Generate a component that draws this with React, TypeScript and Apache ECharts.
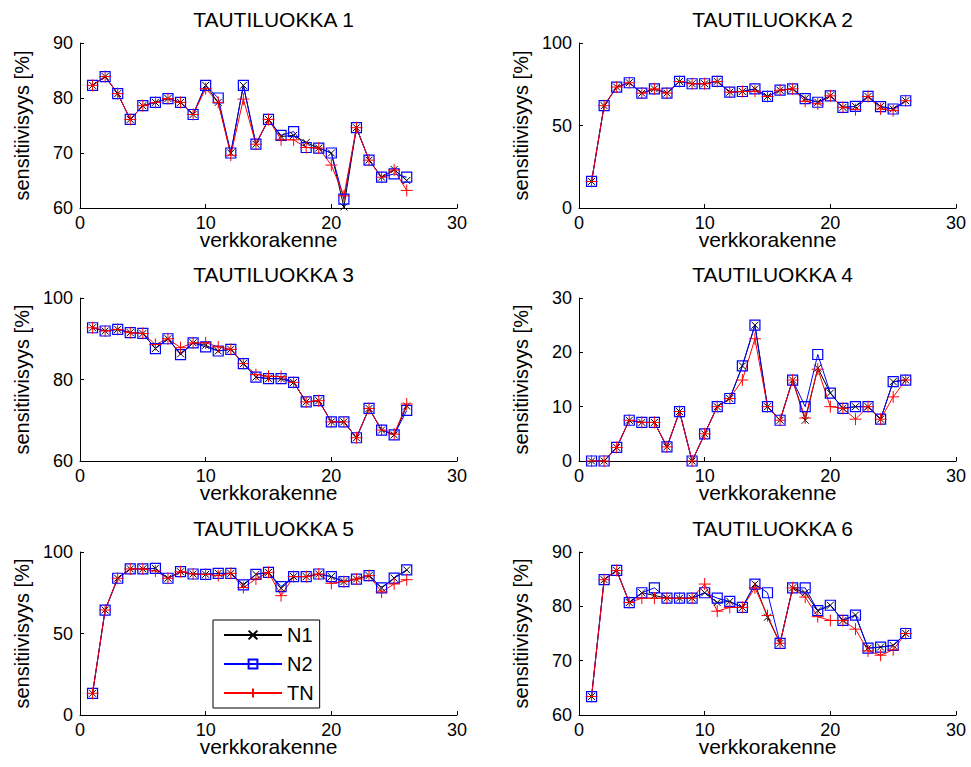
import React, { useEffect, useRef } from "react";
import * as echarts from "echarts";

const xs = [1, 2, 3, 4, 5, 6, 7, 8, 9, 10, 11, 12, 13, 14, 15, 16, 17, 18, 19, 20, 21, 22, 23, 24, 25, 26];
const seriesNames = ["N1", "N2", "TN"];
const titles = ["TAUTILUOKKA 1", "TAUTILUOKKA 2", "TAUTILUOKKA 3", "TAUTILUOKKA 4", "TAUTILUOKKA 5", "TAUTILUOKKA 6"];
const xTicks = { min: 0, max: 30, interval: 10 };
const yRanges = [
  { min: 60, max: 90, interval: 10 },
  { min: 0, max: 100, interval: 50 },
  { min: 60, max: 100, interval: 20 },
  { min: 0, max: 30, interval: 10 },
  { min: 0, max: 100, interval: 50 },
  { min: 60, max: 90, interval: 10 },
];

// Tautiluokka 1
const n1_1 = [82.3, 83.9, 80.8, 76.1, 78.6, 79.2, 79.9, 79.2, 77.0, 82.3, 79.2, 70.0, 82.3, 71.6, 76.1, 73.0, 73.2, 71.9, 70.9, 70.0, 60.2, 74.6, 68.7, 65.6, 67.0, 65.0];
const n2_1 = [82.3, 83.9, 80.8, 76.1, 78.6, 79.2, 79.9, 79.2, 77.0, 82.3, 80.0, 70.0, 82.3, 71.6, 76.1, 73.2, 73.9, 71.0, 70.9, 70.0, 61.6, 74.6, 68.7, 65.6, 66.2, 65.6];
const tn_1 = [82.3, 83.9, 80.8, 76.1, 78.6, 79.2, 79.9, 79.2, 77.0, 81.7, 79.2, 69.6, 79.8, 71.6, 76.1, 72.4, 72.4, 71.0, 70.9, 67.8, 62.2, 74.6, 68.7, 65.6, 66.9, 63.2];
// Tautiluokka 2
const n1_2 = [16.1, 62.0, 73.3, 75.9, 69.6, 72.2, 69.6, 76.7, 75.3, 75.3, 76.7, 70.2, 70.6, 72.2, 67.6, 71.4, 72.2, 66.3, 64.1, 68.0, 61.0, 61.6, 67.6, 61.5, 60.0, 65.0];
const n2_2 = [16.1, 62.0, 73.3, 75.9, 69.6, 72.2, 69.6, 76.7, 75.3, 75.3, 76.7, 70.2, 70.6, 72.2, 67.6, 71.4, 72.2, 66.3, 64.1, 68.0, 61.0, 61.6, 67.6, 61.5, 60.0, 65.0];
const tn_2 = [16.1, 62.0, 73.3, 75.9, 69.6, 72.2, 69.6, 76.7, 75.3, 75.3, 76.7, 70.2, 70.6, 70.8, 67.6, 71.4, 72.2, 64.7, 63.1, 68.0, 61.0, 59.6, 67.6, 60.0, 59.0, 65.0];
// Tautiluokka 3
const n1_3 = [92.7, 91.9, 92.3, 91.5, 91.3, 87.6, 90.0, 86.3, 89.0, 88.4, 87.0, 87.4, 83.9, 80.6, 80.2, 80.2, 79.3, 74.5, 74.8, 69.6, 69.6, 65.7, 72.9, 67.6, 66.4, 73.5];
const n2_3 = [92.7, 91.9, 92.3, 91.5, 91.3, 87.6, 90.0, 86.1, 89.0, 88.0, 87.0, 87.4, 83.9, 80.6, 80.2, 80.2, 79.3, 74.5, 74.8, 69.6, 69.6, 65.7, 72.9, 67.6, 66.4, 72.4];
const tn_3 = [92.7, 91.9, 92.3, 91.5, 91.3, 88.6, 90.0, 87.8, 89.0, 89.0, 88.0, 87.4, 83.9, 81.2, 80.8, 80.7, 79.3, 74.5, 74.8, 69.6, 69.6, 65.7, 72.9, 67.6, 66.6, 74.0];
// Tautiluokka 4
const n1_4 = [0, 0, 2.5, 7.5, 7.1, 7.1, 2.6, 9.1, 0, 5.0, 10.0, 11.5, 17.5, 25.0, 10.0, 7.5, 14.9, 7.5, 17.1, 12.5, 9.7, 10.0, 10.0, 7.7, 14.6, 14.9];
const n2_4 = [0, 0, 2.5, 7.5, 7.1, 7.1, 2.6, 9.1, 0, 5.0, 10.0, 11.5, 17.5, 25.0, 10.0, 7.5, 14.9, 10.0, 19.6, 12.5, 9.7, 10.0, 10.0, 7.7, 14.6, 14.9];
const tn_4 = [0, 0, 2.5, 7.5, 7.1, 7.1, 2.6, 9.1, 0, 5.0, 10.0, 11.5, 14.9, 22.5, 10.0, 7.5, 14.9, 7.9, 16.9, 10.0, 9.7, 7.7, 10.0, 7.7, 11.8, 14.9];
// Tautiluokka 5
const n1_5 = [13.3, 64.4, 83.9, 89.6, 89.6, 90.0, 83.9, 87.9, 86.5, 86.3, 86.9, 86.9, 79.8, 86.3, 87.5, 77.7, 84.9, 84.9, 86.5, 84.9, 81.8, 83.4, 85.5, 78.0, 84.0, 89.0];
const n2_5 = [13.3, 64.4, 83.9, 89.6, 89.6, 90.0, 83.9, 87.9, 86.5, 86.3, 86.9, 86.9, 79.8, 86.3, 87.5, 78.8, 84.9, 84.9, 86.5, 84.9, 81.8, 83.4, 85.5, 78.0, 84.0, 89.0];
const tn_5 = [13.3, 64.4, 83.9, 89.6, 89.6, 88.4, 83.9, 87.9, 86.5, 86.3, 85.5, 86.9, 78.2, 83.5, 87.5, 73.2, 84.9, 84.9, 86.5, 80.8, 81.8, 83.4, 85.5, 75.5, 80.4, 83.0];
// Tautiluokka 6
const n1_6 = [63.4, 84.9, 86.6, 80.7, 82.5, 82.0, 81.5, 81.5, 81.5, 82.5, 80.7, 80.9, 79.8, 84.1, 78.0, 73.2, 83.4, 82.5, 79.2, 80.2, 77.4, 78.4, 72.3, 72.5, 72.8, 75.0];
const n2_6 = [63.4, 84.9, 86.6, 80.7, 82.5, 83.4, 81.5, 81.5, 81.5, 82.5, 81.5, 80.9, 79.8, 84.1, 82.5, 73.2, 83.4, 83.4, 79.2, 80.2, 77.4, 78.4, 72.3, 72.5, 72.8, 75.0];
const tn_6 = [63.4, 84.9, 86.6, 80.7, 81.5, 81.5, 81.5, 81.5, 81.5, 84.1, 79.1, 79.8, 79.8, 83.4, 78.3, 73.2, 83.4, 81.7, 78.1, 77.4, 77.4, 75.8, 71.8, 71.0, 72.0, 75.0];

const panels = [
  [n1_1, n2_1, tn_1],
  [n1_2, n2_2, tn_2],
  [n1_3, n2_3, tn_3],
  [n1_4, n2_4, tn_4],
  [n1_5, n2_5, tn_5],
  [n1_6, n2_6, tn_6],
];

const FONT = "'Liberation Sans', Arial, sans-serif";
const colLefts = [80, 579];
const plotW = 377;
const rowTops = [43, 298, 552];
const rowHeights = [165, 163, 163];

const X_PATH = "path://M0,0L8,8M8,0L0,8";
const PLUS_PATH = "path://M5,0L5,10M0,5L10,5";

export default function App() {
  const ref = useRef<HTMLDivElement>(null);
  useEffect(() => {
    if (!ref.current) return;
    const chart = echarts.init(ref.current, null, { renderer: "svg" });
    const grids: any[] = [];
    const xAxes: any[] = [];
    const yAxes: any[] = [];
    const titleArr: any[] = [];
    const series: any[] = [];
    for (let i = 0; i < 6; i++) {
      const r = Math.floor(i / 2);
      const c = i % 2;
      grids.push({ left: colLefts[c], top: rowTops[r], width: plotW, height: rowHeights[r] });
      titleArr.push({
        text: titles[i],
        left: colLefts[c] + plotW / 2,
        top: rowTops[r] - 39,
        textAlign: "center",
        textStyle: { fontFamily: FONT, fontSize: 21, fontWeight: "normal", color: "#000" },
      });
      xAxes.push({
        gridIndex: i,
        type: "value",
        min: xTicks.min,
        max: xTicks.max,
        interval: xTicks.interval,
        name: "verkkorakenne",
        nameLocation: "middle",
        nameGap: 23,
        nameMoveOverlap: false,
        nameTextStyle: { fontFamily: FONT, fontSize: 21, color: "#000", lineHeight: 16 },
        axisLine: { show: true, onZero: false, lineStyle: { color: "#000", width: 1 } },
        axisTick: { show: true, inside: true, length: 4, lineStyle: { color: "#000" } },
        axisLabel: { fontFamily: FONT, fontSize: 18, color: "#000", margin: 8, lineHeight: 14 },
        splitLine: { show: false },
      });
      yAxes.push({
        gridIndex: i,
        type: "value",
        min: yRanges[i].min,
        max: yRanges[i].max,
        interval: yRanges[i].interval,
        name: "sensitiivisyys [%]",
        nameLocation: "middle",
        nameGap: 48,
        nameMoveOverlap: false,
        nameTextStyle: { fontFamily: FONT, fontSize: 20, color: "#000" },
        axisLine: { show: true, onZero: false, lineStyle: { color: "#000", width: 1 } },
        axisTick: { show: true, inside: true, length: 4, lineStyle: { color: "#000" } },
        axisLabel: { fontFamily: FONT, fontSize: 18, color: "#000", margin: 7 },
        splitLine: { show: false },
      });
      const [a, b, t] = panels[i];
      const base = { type: "line", xAxisIndex: i, yAxisIndex: i, showAllSymbol: true, animation: false };
      series.push({
        ...base,
        name: "N1",
        data: xs.map((x, k) => [x, a[k]]),
        symbol: X_PATH,
        symbolSize: 7,
        lineStyle: { color: "#000", width: 1 },
        itemStyle: { color: "#000", borderColor: "#000", borderWidth: 1 },
      });
      series.push({
        ...base,
        name: "N2",
        data: xs.map((x, k) => [x, b[k]]),
        symbol: "rect",
        symbolSize: 10,
        lineStyle: { color: "#0000ff", width: 1 },
        itemStyle: { color: "rgba(0,0,0,0)", borderColor: "#0000ff", borderWidth: 1.2 },
      });
      series.push({
        ...base,
        name: "TN",
        data: xs.map((x, k) => [x, t[k]]),
        symbol: PLUS_PATH,
        symbolSize: 12,
        lineStyle: { color: "#ff0000", width: 1 },
        itemStyle: { color: "#ff0000", borderColor: "#ff0000", borderWidth: 1 },
      });
    }
    chart.setOption({
      animation: false,
      backgroundColor: "#fff",
      title: titleArr,
      grid: grids,
      xAxis: xAxes,
      yAxis: yAxes,
      series,
      legend: {
        data: seriesNames,
        orient: "vertical",
        left: 213,
        top: 620,
        itemWidth: 58,
        itemHeight: 11,
        itemGap: 9,
        padding: [5, 6, 5, 10],
        borderColor: "#000",
        borderWidth: 1,
        backgroundColor: "#fff",
        textStyle: { fontFamily: FONT, fontSize: 20, color: "#000" },
        selectedMode: false,
      },
    });
    return () => chart.dispose();
  }, []);
  return <div ref={ref} style={{ position: "absolute", left: 0, top: 0, width: 971, height: 767 }} />;
}
